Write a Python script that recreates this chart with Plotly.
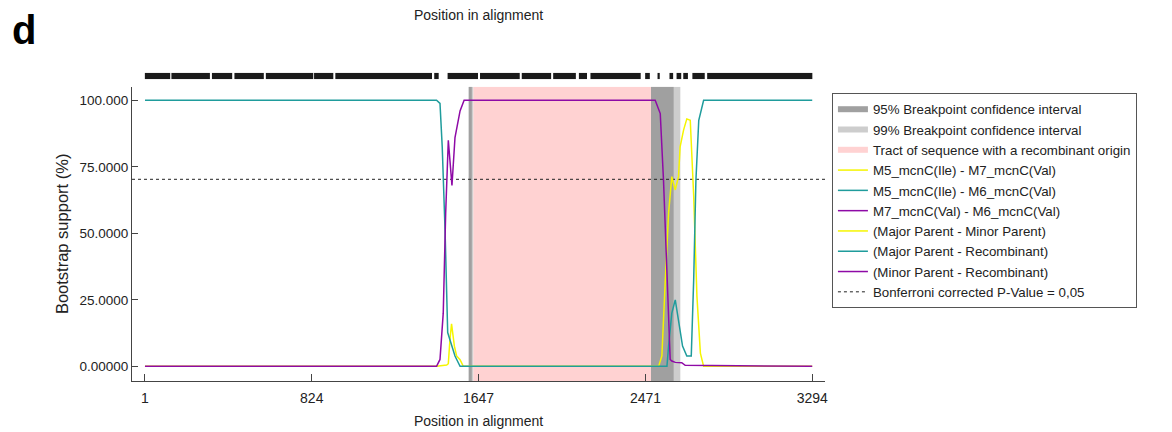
import plotly.graph_objects as go

# ---------------- data ----------------
X_TICKS = [1, 824, 1647, 2471, 3294]
Y_TICKS = [0, 25, 50, 75, 100]
Y_TICK_TEXT = ["0.00000", "25.0000", "50.0000", "75.0000", "100.000"]

# informative-site clusters shown in the strip above the plot (start, end)
site_starts = [1, 132, 332, 443, 598, 836, 941, 1429, 1495, 1655, 1861, 2016, 2143, 2200, 2470, 2531, 2590, 2625, 2658, 2703, 2776]
site_ends   = [125, 321, 431, 587, 831, 930, 1417, 1450, 1644, 1850, 2005, 2127, 2182, 2447, 2492, 2541, 2607, 2647, 2680, 2763, 3294]

# breakpoint intervals
ci95_left = [1600, 1614]
ci99_left = [1597, 1622]
ci95_right = [2498, 2610]
ci99_right = [2498, 2643]
tract = [1622, 2498]

# Major Parent - Minor Parent (M5 - M7), yellow
yel_x = [1, 1440, 1490, 1498, 1506, 1514, 1528, 1539, 1556, 1572, 2536, 2552, 2569, 2585, 2601, 2618,
         2634, 2642, 2659, 2675, 2692, 2709, 2725, 2742, 2758, 3294]
yel_y = [0, 0, 0.5, 1, 10, 16, 7.6, 3.9, 2.5, 0, 0, 3.9, 32.6, 57.6, 71.3, 66.3,
         71.3, 82.5, 88.8, 93, 92.5, 64, 26.3, 5, 0, 0]

# Major Parent - Recombinant (M5 - M6), teal
teal_x = [1, 1440, 1457, 1468, 1482, 1495, 1506, 1531, 1556, 2577, 2585, 2601, 2618, 2634, 2654,
          2675, 2697, 2709, 2720, 2734, 2758, 3294]
teal_y = [100, 100, 98.8, 82.5, 51, 12.7, 10, 3.9, 0, 0, 7.6, 20, 25, 17.6, 7.6,
          3.9, 3.9, 32.6, 70, 92.5, 100, 100]

# Minor Parent - Recombinant (M7 - M6), purple
purp_x = [1, 1440, 1457, 1473, 1485, 1498, 1516, 1531, 1556, 1576, 2519, 2544, 2560, 2577, 2593,
          2601, 2618, 2650, 2667, 3294]
purp_y = [0, 0, 2.6, 20, 57.6, 85, 68, 86, 96, 100, 100, 95, 70, 32.6, 2.6,
          2, 1.5, 1.4, 0.4, 0]

bonferroni = 70.3

X_RANGE = [-63, 3357]
Y_RANGE = [-5.5, 105.1]

YELLOW = "#f5f500"
TEAL = "#1f9c9c"
PURPLE = "#8e0aa6"
FONT = "Liberation Sans, Arial, sans-serif"

fig = go.Figure()


def rect(a, b):
    return [a, a, b, b, a], [Y_RANGE[0], Y_RANGE[1], Y_RANGE[1], Y_RANGE[0], Y_RANGE[0]]


# 99% intervals (drawn first, lighter)
for i, iv in enumerate([ci99_left, ci99_right]):
    xs, ys = rect(*iv)
    fig.add_trace(go.Scatter(x=xs, y=ys, fill="toself", fillcolor="#cdcdcd", mode="none",
                             name="99% Breakpoint confidence interval", legendrank=2,
                             legendgroup="ci99", showlegend=(i == 0), hoverinfo="skip"))
for i, iv in enumerate([ci95_left, ci95_right]):
    xs, ys = rect(*iv)
    fig.add_trace(go.Scatter(x=xs, y=ys, fill="toself", fillcolor="#a0a0a0", mode="none",
                             name="95% Breakpoint confidence interval", legendrank=1,
                             legendgroup="ci95", showlegend=(i == 0), hoverinfo="skip"))
xs, ys = rect(*tract)
fig.add_trace(go.Scatter(x=xs, y=ys, fill="toself", fillcolor="#ffd2d2", mode="none",
                         name="Tract of sequence with a recombinant origin", legendrank=3,
                         hoverinfo="skip"))

# Bonferroni line
fig.add_trace(go.Scatter(x=X_RANGE, y=[bonferroni, bonferroni], mode="lines",
                         line=dict(color="#222222", width=1, dash="dot"),
                         name="Bonferroni corrected P-Value = 0,05", legendrank=10))

# curves
fig.add_trace(go.Scatter(x=yel_x, y=yel_y, mode="lines", line=dict(color=YELLOW, width=1.5),
                         name="M5_mcnC(Ile) - M7_mcnC(Val)", legendrank=4))
fig.add_trace(go.Scatter(x=teal_x, y=teal_y, mode="lines", line=dict(color=TEAL, width=1.5),
                         name="M5_mcnC(Ile) - M6_mcnC(Val)", legendrank=5))
fig.add_trace(go.Scatter(x=purp_x, y=purp_y, mode="lines", line=dict(color=PURPLE, width=1.5),
                         name="M7_mcnC(Val) - M6_mcnC(Val)", legendrank=6))

# role legend entries
for nm, col, rk in [("(Major Parent - Minor Parent)", YELLOW, 7),
                    ("(Major Parent - Recombinant)", TEAL, 8),
                    ("(Minor Parent - Recombinant)", PURPLE, 9)]:
    fig.add_trace(go.Scatter(x=[None], y=[None], mode="lines", line=dict(color=col, width=1.5),
                             name=nm, legendrank=rk))

# informative sites strip
centers = [(a + b) / 2 for a, b in zip(site_starts, site_ends)]
widths = [b - a + 1 for a, b in zip(site_starts, site_ends)]
fig.add_trace(go.Bar(x=centers, y=[1] * len(centers), width=widths, base=0,
                     marker=dict(color="#1a1a1a", line=dict(width=0)),
                     yaxis="y2", showlegend=False, hoverinfo="skip"))

AX = "#444444"
fig.update_layout(
    width=1164, height=424,
    margin=dict(l=124, r=347, t=52, b=51, autoexpand=False),
    paper_bgcolor="white", plot_bgcolor="white",
    font=dict(family=FONT, size=14, color="#222222"),
    showlegend=True,
    barmode="overlay",
    legend=dict(x=1.01, xanchor="left", y=0.897, yanchor="top",
                bgcolor="white", bordercolor="#555555", borderwidth=1,
                font=dict(family=FONT, size=13.3, color="#222222"),
                tracegroupgap=0, itemwidth=30),
    xaxis=dict(range=X_RANGE, tickvals=X_TICKS, ticktext=[str(v) for v in X_TICKS],
               showgrid=False, zeroline=False, showline=True, linecolor=AX, linewidth=1,
               ticks="inside", ticklen=7, tickcolor=AX, ticklabelstandoff=4,
               automargin=False,
               title=dict(text="Position in alignment", font=dict(size=14), standoff=11),
               anchor="y", mirror=False),
    yaxis=dict(range=Y_RANGE, domain=[0, 0.9168], tickvals=Y_TICKS, ticktext=Y_TICK_TEXT,
               showgrid=False, zeroline=False, showline=True, linecolor=AX, linewidth=1,
               ticks="inside", ticklen=6, tickcolor=AX, tickfont=dict(size=13.5),
               automargin=False,
               title=dict(text="Bootstrap support (%)", font=dict(size=16.5), standoff=6)),
    yaxis2=dict(range=[0, 1], domain=[0.9399, 0.9604], visible=False, anchor="x",
                automargin=False),
    annotations=[
        dict(text="Position in alignment", xref="paper", yref="paper", x=0.5, y=1.14,
             xanchor="center", yanchor="middle", showarrow=False, font=dict(size=14)),
        dict(text="<b>d</b>", xref="paper", yref="paper", x=-0.176, y=1.094,
             xanchor="left", yanchor="middle", showarrow=False,
             font=dict(size=40, color="black", family=FONT)),
    ],
)

fig.write_html("out.html")
